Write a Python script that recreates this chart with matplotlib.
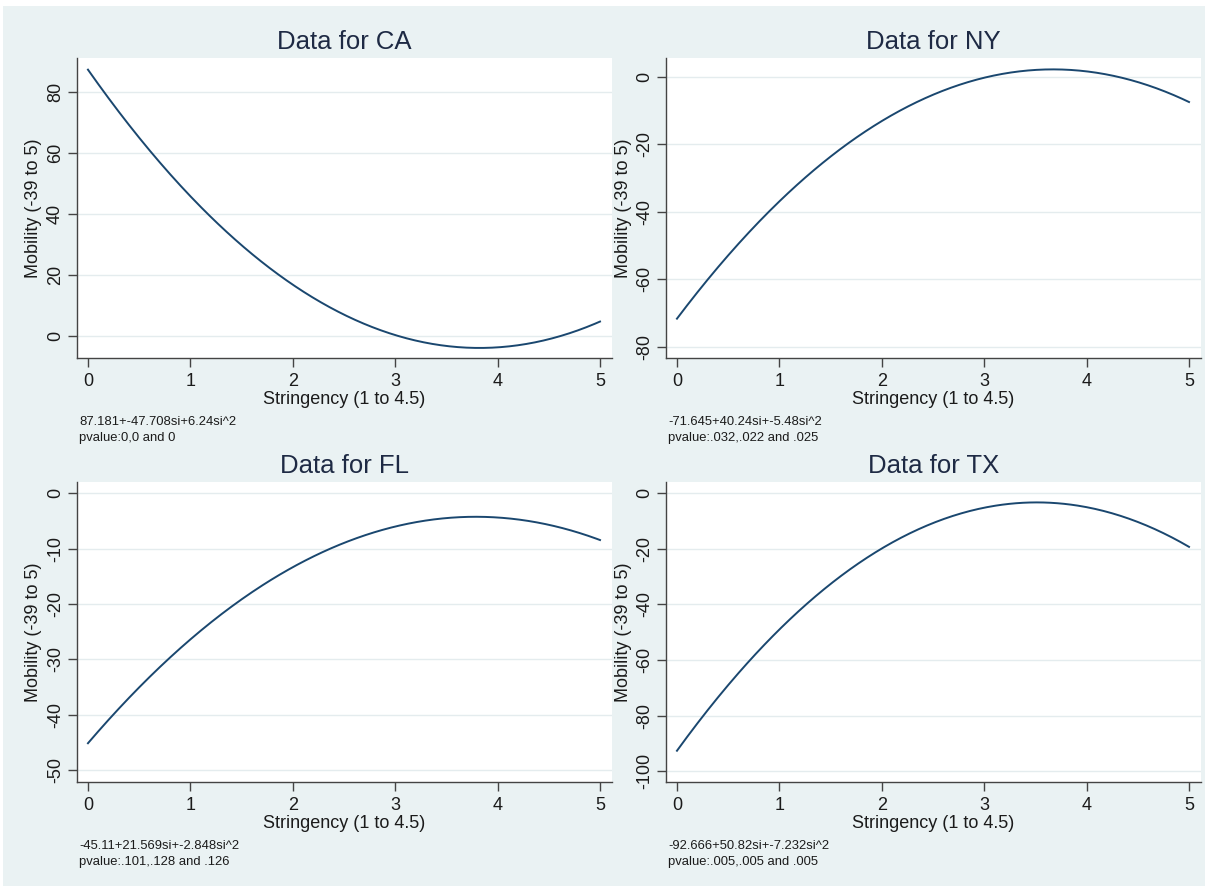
import numpy as np
import matplotlib.pyplot as plt
from matplotlib.patches import Rectangle

plt.rcParams['font.family'] = ['Liberation Sans', 'DejaVu Sans']

# fitted quadratics: b0 + b1*si + b2*si^2
states = ['CA', 'NY', 'FL', 'TX']
coef_ca = [87.181, -47.708, 6.24]
coef_ny = [-71.645, 40.24, -5.48]
coef_fl = [-45.11, 21.569, -2.848]
coef_tx = [-92.666, 50.82, -7.232]
notes = ['87.181+-47.708si+6.24si^2',
         '-71.645+40.24si+-5.48si^2',
         '-45.11+21.569si+-2.848si^2',
         '-92.666+50.82si+-7.232si^2']
pvalues = ['pvalue:0,0 and 0',
           'pvalue:.032,.022 and .025',
           'pvalue:.101,.128 and .126',
           'pvalue:.005,.005 and .005']
yticks_ca = [0, 20, 40, 60, 80]
yticks_ny = [-80, -60, -40, -20, 0]
yticks_fl = [-50, -40, -30, -20, -10, 0]
yticks_tx = [-100, -80, -60, -40, -20, 0]
xticks = [0, 1, 2, 3, 4, 5]

W, H = 1215, 888
BG = '#EAF2F3'
LINE = '#1A476F'
GRID = '#E4ECEE'
TXT = '#1B1B1B'


def main():
    fig = plt.figure(figsize=(W / 100, H / 100), dpi=100, facecolor='white')
    fig.patches.append(Rectangle((3 / W, 2 / H), 1202 / W, 880 / H,
                                 transform=fig.transFigure, facecolor=BG,
                                 edgecolor='none', zorder=-10))

    coefs = [coef_ca, coef_ny, coef_fl, coef_tx]
    yticks = [yticks_ca, yticks_ny, yticks_fl, yticks_tx]
    ylims = [(-7.3, 91.0), (-83.3, 5.6), (-52.1, 2.0), (-103.9, 3.95)]
    # pixel boxes: left, top, right, bottom
    boxes = [(77, 58, 612, 358), (666, 58, 1201, 358),
             (77, 482, 612, 782), (666, 482, 1201, 782)]

    si = np.linspace(0, 5, 300)
    for i in range(4):
        l, t, r, b = boxes[i]
        ax = fig.add_axes([l / W, 1 - b / H, (r - l) / W, (b - t) / H])
        ax.set_facecolor('white')
        c = coefs[i]
        ax.plot(si, c[0] + c[1] * si + c[2] * si ** 2, color=LINE, lw=1.4)
        ax.set_xlim(-0.107, 5.117)
        ax.set_ylim(*ylims[i])
        ax.set_xticks(xticks)
        ax.set_yticks(yticks[i])
        ax.set_yticklabels([str(v) for v in yticks[i]], rotation=90, va='center')
        ax.grid(axis='y', color=GRID, lw=1)
        ax.set_axisbelow(True)
        for s in ['top', 'right']:
            ax.spines[s].set_visible(False)
        for s in ['left', 'bottom']:
            ax.spines[s].set_color('#444444')
            ax.spines[s].set_linewidth(1)
        ax.tick_params(axis='both', length=6.5, width=1, color='#444444',
                       labelsize=13, labelcolor=TXT)
        ax.tick_params(axis='y', pad=3)
        ax.tick_params(axis='x', pad=4)

        cx = (l + r) / 2
        fig.text(cx / W, 1 - 42 / H + (58 - t) / H, 'Data for ' + states[i],
                 ha='center', va='center', fontsize=18.5, color='#1E2A44')
        fig.text(cx / W, 1 - (b + 41) / H, 'Stringency (1 to 4.5)',
                 ha='center', va='center', fontsize=13, color=TXT)
        fig.text((l - 43) / W, 1 - ((t + b) / 2) / H, 'Mobility (-39 to 5)',
                 ha='center', va='center', rotation=90, fontsize=13, color=TXT)
        fig.text((l + 2) / W, 1 - (b + 64) / H, notes[i],
                 ha='left', va='center', fontsize=9.4, color=TXT)
        fig.text((l + 2) / W, 1 - (b + 80) / H, pvalues[i],
                 ha='left', va='center', fontsize=9.4, color=TXT)

    fig.savefig('out.png', dpi=100, facecolor='white')


if __name__ == '__main__':
    main()
